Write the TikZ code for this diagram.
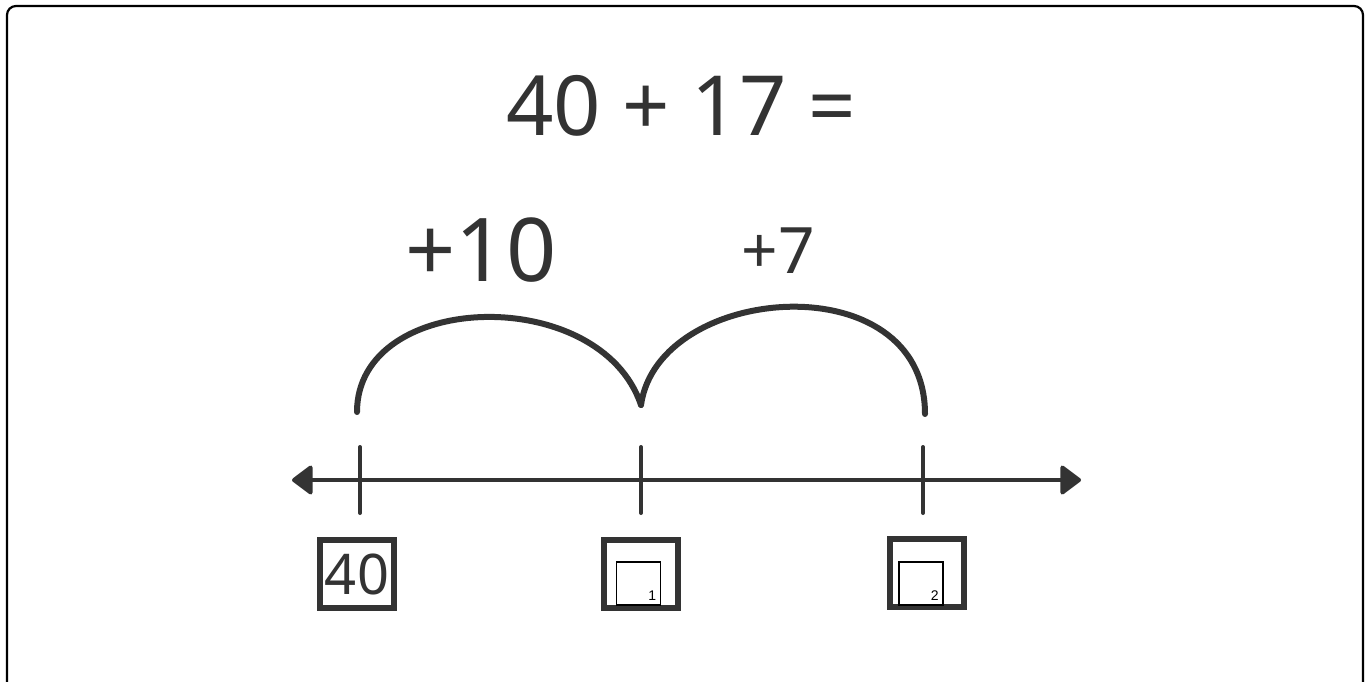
\documentclass[tikz,border=0pt]{standalone}
\usepackage{fontspec}
\setmainfont{Noto Sans}
\newfontfamily\labelfont{Liberation Sans}
\usetikzlibrary{arrows.meta}
\definecolor{ink}{HTML}{333333}
\tikzset{
  numline/.style={line width=4pt, draw=ink, {Triangle[round,length=22pt,width=32pt]}-{Triangle[round,length=22pt,width=32pt]}},
  tickline/.style={line width=4pt, draw=ink, line cap=round},
  jumparc/.style={line width=6pt, draw=ink, line cap=round},
  bigbox/.style={draw=ink, line width=6pt, minimum width=74pt, minimum height=68pt, inner sep=0pt, text=ink},
  smallbox/.style={draw=black, line width=1.5pt, minimum width=44pt, minimum height=43pt, inner sep=0pt},
  tag/.style={font=\labelfont\fontsize{14}{14}\selectfont, inner sep=0pt},
  handtext/.style={text=ink, inner sep=0pt}
}
\begin{document}
\begin{tikzpicture}[x=1pt,y=-1pt]
\useasboundingbox (0,0) rectangle (1366,681);
% outer frame (bottom open)
\draw[line width=2.2pt, rounded corners=9pt] (7,700) -- (7,6) -- (1363,6) -- (1363,700);
% title
\node[handtext, font=\fontsize{83}{83}\selectfont] (title) at (681,106) {40 + 17 =};
% jump labels
\node[handtext, font=\fontsize{88}{88}\selectfont] (plusten) at (481,250) {+10};
\node[handtext, font=\fontsize{64}{64}\selectfont] (plusseven) at (778,251) {+7};
% number line
\coordinate (lineL) at (292,480);
\coordinate (lineR) at (1081,480);
\draw[numline] (lineL) -- (lineR);
% ticks
\coordinate (t1top) at (360,447); \coordinate (t1bot) at (360,513);
\coordinate (t2top) at (641,447); \coordinate (t2bot) at (641,513);
\coordinate (t3top) at (923,447); \coordinate (t3bot) at (923,513);
\draw[tickline] (t1top) -- (t1bot);
\draw[tickline] (t2top) -- (t2bot);
\draw[tickline] (t3top) -- (t3bot);
% arcs
\coordinate (a0) at (357,412);
\coordinate (a1) at (641,405);
\coordinate (a2) at (925,414);
\draw[jumparc] (a0) .. controls (357,290) and (600,283) .. (a1);
\draw[jumparc] (a1) .. controls (658,283) and (925,262) .. (a2);
% boxes
\node[bigbox, font=\fontsize{56}{56}\selectfont] (box40) at (357,574) {40};
\node[bigbox] (box1) at (641,574) {};
\node[bigbox] (box2) at (927,573) {};
\node[smallbox] (in1) at (638.5,583.5) {};
\node[smallbox] (in2) at (921,583.5) {};
\node[tag, anchor=south east] (n1) at ([xshift=-5pt,yshift=5pt]in1.south east) {1};
\node[tag, anchor=south east] (n2) at ([xshift=-5pt,yshift=5pt]in2.south east) {2};
\end{tikzpicture}
\end{document}
